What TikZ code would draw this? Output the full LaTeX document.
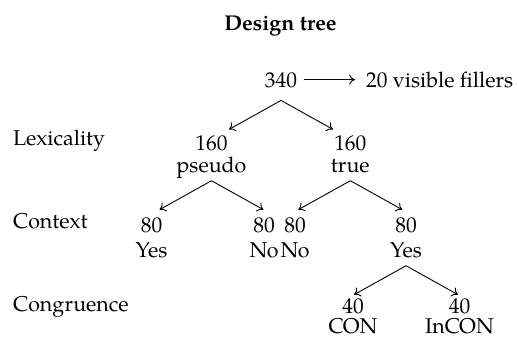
\documentclass[tikz,border=0pt]{standalone}
\usepackage{fontspec}
\setmainfont{TeX Gyre Pagella}
\usetikzlibrary{arrows.meta}
\begin{document}
\begin{tikzpicture}[x=0.5pt,y=-0.5pt,
  every node/.style={font=\fontsize{10.7}{13}\selectfont},
  txt/.style={anchor=base, inner sep=0pt},
  rowlab/.style={anchor=base west, inner sep=0pt},
  lab/.style={anchor=base, inner xsep=3.33pt, inner ysep=4pt, text depth=0pt},
  leaflab/.style={anchor=base, inner sep=0pt},
  num/.style={anchor=base, inner xsep=3.33pt, inner ysep=3.7pt},
  edge/.style={-{To[length=3pt,width=5pt]}, line width=0.45pt}]
\useasboundingbox (0,0) rectangle (517,339);
% title
\node[txt, font=\fontsize{10.7}{13}\selectfont\bfseries] (title) at (280.5,30) {Design tree};
% root
\node[lab, inner ysep=6.5pt] (n340) at (281,87) {340};
\node[rowlab] (fill) at (365.7,87) {20 visible fillers};
\draw[edge, shorten >=5.3pt] (n340.east) -- (n340.east -| fill.west);
% row labels
\node[rowlab] (rl1) at (12.7,145) {Lexicality};
\node[rowlab] (rl2) at (12.7,228) {Context};
\node[rowlab] (rl3) at (12.7,311.5) {Congruence};
% level 1
\node[num] (a1) at (211.5,150.5) {160};
\node[lab] (a1l) at (211.5,172.3) {pseudo};
\node[num] (a2) at (350.3,150.5) {160};
\node[lab] (a2l) at (350.3,172.3) {true};
% level 2
\node[num] (b1) at (151.5,232) {80};
\node[leaflab] (b1l) at (151.5,257.3) {Yes};
\node[num] (b2) at (264,232) {80};
\node[leaflab] (b2l) at (264,257.3) {No};
\node[num] (b3) at (295,232) {80};
\node[leaflab] (b3l) at (295,257.3) {No};
\node[num] (b4) at (406,232) {80};
\node[lab] (b4l) at (406,257.3) {Yes};
% level 3
\node[num] (c1) at (353,313.5) {40};
\node[leaflab] (c1l) at (353,333.6) {CON};
\node[num] (c2) at (459.5,313.5) {40};
\node[leaflab] (c2l) at (459.5,333.6) {InCON};
% edges
\foreach \p in {n340,a1l,a2l,b4l}{
  \draw[edge] (\p.south) -- ++(-52,29) coordinate (\p-L);
  \draw[edge] (\p.south) -- ++(52,29) coordinate (\p-R);
}
\end{tikzpicture}
\end{document}
